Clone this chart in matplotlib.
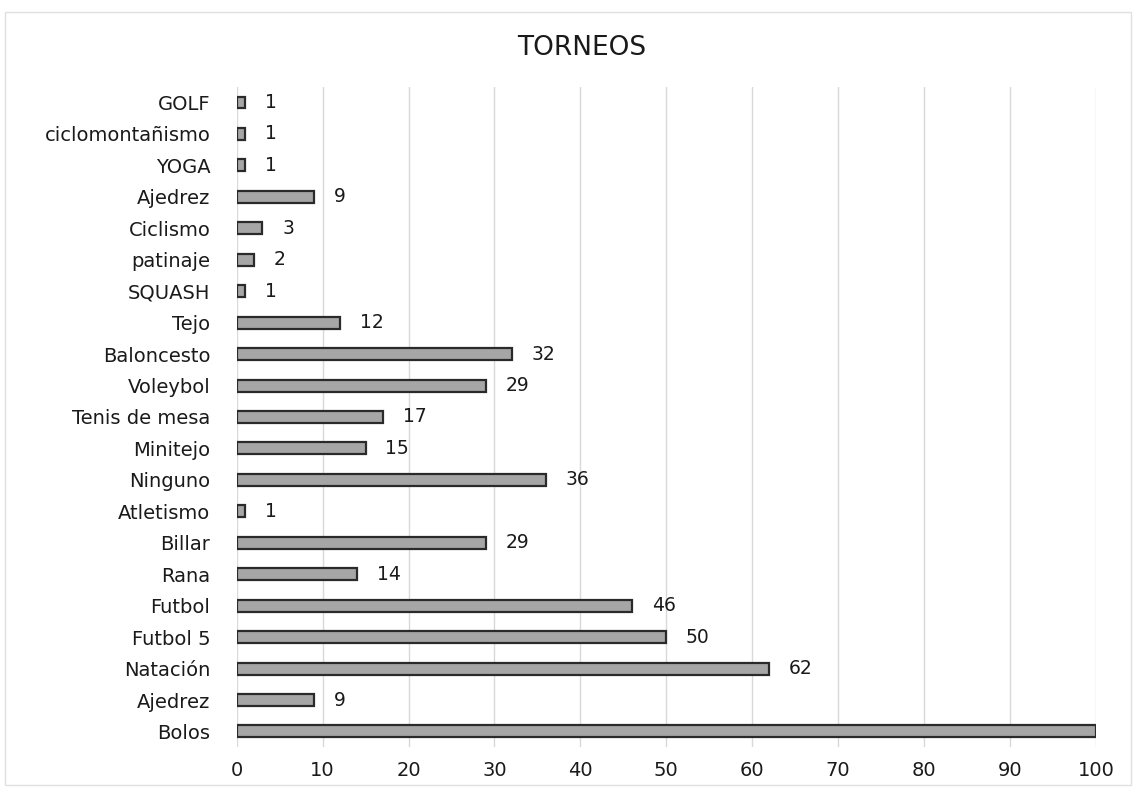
import matplotlib
matplotlib.use('Agg')
import matplotlib.pyplot as plt
from matplotlib.patches import Rectangle

# categories from top to bottom, as in the picture
categories = ['GOLF', 'ciclomontañismo', 'YOGA', 'Ajedrez', 'Ciclismo', 'patinaje',
              'SQUASH', 'Tejo', 'Baloncesto', 'Voleybol', 'Tenis de mesa', 'Minitejo',
              'Ninguno', 'Atletismo', 'Billar', 'Rana', 'Futbol', 'Futbol 5',
              'Natación', 'Ajedrez', 'Bolos']
values = [1, 1, 1, 9, 3, 2, 1, 12, 32, 29, 17, 15, 36, 1, 29, 14, 46, 50, 62, 9, 100]
xticks = list(range(0, 101, 10))
xmax = 100

plt.rcParams['font.family'] = ['DejaVu Sans']

fig = plt.figure(figsize=(11.38, 7.89), dpi=100)
fig.patches.append(Rectangle((0.004, 0.005), 0.99, 0.98, transform=fig.transFigure,
                             fill=False, edgecolor='#e0e0e0', linewidth=1.0))
ax = fig.add_axes([0.208, 0.053, 0.755, 0.837])

n = len(categories)
ypos = list(range(n - 1, -1, -1))
ax.barh(ypos, values, height=0.38, color='#a6a6a6', edgecolor='#2a2a2a',
        linewidth=1.6, zorder=3)
for y, v in zip(ypos, values):
    # the label of the full-width bar has no room and is not shown in the chart
    if v >= xmax:
        continue
    ax.text(v + 2.3, y, str(v), va='center', ha='left', fontsize=13.5, color='#1a1a1a')

ax.set_xlim(0, xmax)
ax.set_ylim(-0.5, n - 0.5)
ax.set_xticks(xticks)
ax.set_yticks(ypos)
ax.set_yticklabels(categories)
ax.tick_params(axis='both', length=0, colors='#1a1a1a')
ax.tick_params(axis='x', labelsize=14, pad=10)
ax.tick_params(axis='y', labelsize=14, pad=19)
ax.grid(axis='x', color='#d9d9d9', linewidth=1.0, zorder=0)
for s in ax.spines.values():
    s.set_visible(False)

fig.text(0.511, 0.939, 'TORNEOS', ha='center', va='center', fontsize=19, color='#1a1a1a')

fig.savefig('out.png', dpi=100)
